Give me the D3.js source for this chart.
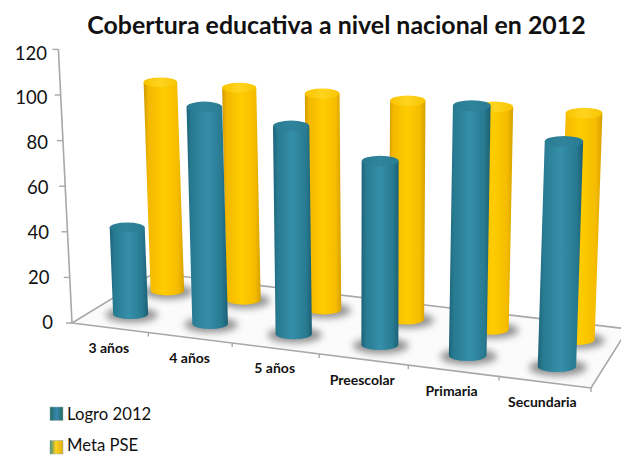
<!DOCTYPE html>
<html><head><meta charset="utf-8">
<script src="https://cdnjs.cloudflare.com/ajax/libs/d3/7.8.5/d3.min.js"></script>
<style>html,body{margin:0;padding:0;background:#fff;overflow:hidden}svg{display:block}text{font-family:Lato,"Open Sans",sans-serif;fill:#111}</style>
</head><body><div id="c"></div>
<script>
const categories=["3 años","4 años","5 años","Preescolar","Primaria","Secundaria"];
const logro=[38.5,95,89.5,77.5,103.5,91.5];
const meta=[97,97,97,96.5,96.5,96.5];
const yTicks=[0,20,40,60,80,100,120];
const seriesNames=["Logro 2012","Meta PSE"];
const W=621,H=455;
const svg=d3.select("#c").append("svg").attr("width",W).attr("height",H);
const defs=svg.append("defs");
function grad(id,stops){const g=defs.append("linearGradient").attr("id",id);stops.forEach(s=>g.append("stop").attr("offset",s[0]).attr("stop-color",s[1]));}
grad("teal",[[0,"#1d6377"],[.12,"#287a91"],[.5,"#358fa9"],[.85,"#287a91"],[1,"#1c5f73"]]);
grad("gold",[[0,"#cf9a00"],[.12,"#f3b800"],[.5,"#ffcc00"],[.85,"#f5bc00"],[1,"#d6a000"]]);
grad("tealCap",[[0,"#2a7b91"],[.5,"#30849c"],[1,"#2a7b91"]]);
grad("goldCap",[[0,"#f8c400"],[.5,"#ffd41f"],[1,"#f8c400"]]);
defs.append("filter").attr("id","soft").append("feGaussianBlur").attr("stdDeviation",.45);
const fs=defs.append("filter").attr("id","sh").attr("x","-40%").attr("y","-60%").attr("width","180%").attr("height","220%");
fs.append("feGaussianBlur").attr("stdDeviation",3.5);
defs.append("filter").attr("id","ln").append("feGaussianBlur").attr("stdDeviation",.5);
const sw1=defs.append("linearGradient").attr("id","sw1").attr("x1",0).attr("x2",1).attr("y1",0).attr("y2",0);
[[0,"#1f6b5f"],[.5,"#3b86b0"],[1,"#1f6b5f"]].forEach(s=>sw1.append("stop").attr("offset",s[0]).attr("stop-color",s[1]));
const sw2=defs.append("linearGradient").attr("id","sw2").attr("x1",0).attr("x2",1).attr("y1",0).attr("y2",0);
[[0,"#3f8a80"],[.45,"#ffd21e"],[1,"#e0b010"]].forEach(s=>sw2.append("stop").attr("offset",s[0]).attr("stop-color",s[1]));

// floor frame
const FL=[72,323],FR=[591,388],BL=[154,273],BR=[628,329];
const uBand=d3.scaleBand().domain(categories).range([0,1]);
const warp=d3.scalePow().exponent(1.07).domain([0,1]).range([0,1]);
const depth=d3.scalePoint().domain(seriesNames).range([.27,.73]);
const slide=d3.scaleOrdinal().domain(seriesNames).range([1,1.5]);
const hScale=d3.scaleLinear().domain([0,120]).range([0,273.6]);
const lerp=(a,b,t)=>[a[0]+(b[0]-a[0])*t,a[1]+(b[1]-a[1])*t];
function floor(u,d){const w=warp(u);return lerp(lerp(FL,FR,w),lerp(BL,BR,w),d);}
function persp(y){return 1+(y-323)*.0041/2.28;}
function lift(p,v){const h=hScale(v)*persp(p[1]);return [p[0]+(p[0]-370)/6000*h,p[1]-h];}

const g=svg.append("g");
const line=d3.line();
g.append("path").attr("d",line([FL,FR,BR,BL])+"Z").attr("fill","#fbfbfb").attr("stroke","#a8a8a8").attr("stroke-width",1.6).attr("filter","url(#ln)");
const axisG=g.append("g").attr("filter","url(#ln)");
axisG.append("path").attr("d",line([FL,lift(FL,120)])).attr("stroke","#a8a8a8").attr("stroke-width",1.6).attr("fill","none");
yTicks.forEach(v=>{const p=lift(FL,v);axisG.append("path").attr("d",line([[p[0]-6,p[1]],p])).attr("stroke","#a8a8a8").attr("stroke-width",1.4);});
categories.forEach(c=>{const u=uBand(c)+uBand.bandwidth();const p=floor(u,0);axisG.append("path").attr("d",line([p,[p[0],p[1]+4]])).attr("stroke","#a8a8a8").attr("stroke-width",1.4);});

// y labels
g.selectAll(".yl").data(yTicks).join("text").attr("class","yl")
 .attr("x",v=>v===0?53:50-v/120*3).attr("y",v=>lift(FL,v)[1]+5.5+v/120*4.6)
 .attr("text-anchor","end").attr("font-size",18.5).text(v=>v);

// cylinders back to front
function cyl(parent,c,v,s){
  const f=floor(uBand(c)+uBand.bandwidth()/2,depth(s));
  const p=[f[0]+slide(s),f[1]];
  const t=lift(p,v);
  const k=persp(p[1]);
  const r=17.8*k,ry=5.2*k;
  const a=s==="Meta PSE";
  parent.append("ellipse").attr("cx",p[0]+1).attr("cy",p[1]+1).attr("rx",r*1.5).attr("ry",ry*1.5).attr("fill","#666").attr("opacity",.7).attr("filter","url(#sh)");
  const bar=parent.append("g").attr("filter","url(#soft)");
  bar.append("path").attr("d",`M${t[0]-r},${t[1]}L${p[0]-r},${p[1]}A${r},${ry} 0 0 0 ${p[0]+r},${p[1]}L${t[0]+r},${t[1]}Z`).attr("fill",`url(#${a?"gold":"teal"})`);
  bar.append("ellipse").attr("cx",t[0]).attr("cy",t[1]).attr("rx",r).attr("ry",ry).attr("fill",`url(#${a?"goldCap":"tealCap"})`);
}
const bars=svg.append("g");
categories.forEach((c,i)=>cyl(bars,c,meta[i],"Meta PSE"));
categories.forEach((c,i)=>cyl(bars,c,logro[i],"Logro 2012"));

// category labels
const lab=svg.append("g");
lab.selectAll("text").data(categories).join("text")
 .attr("x",(c,i)=>floor(uBand(c)+uBand.bandwidth()/2,0)[0]+.5-i*.6)
 .attr("y",c=>floor(uBand(c)+uBand.bandwidth()/2,0)[1]+25)
 .attr("text-anchor","middle").attr("font-size",14).attr("font-weight",700).text(c=>c);

svg.append("text").attr("x",336.5).attr("y",34).attr("text-anchor","middle").attr("font-size",24.9).attr("font-weight",700).text("Cobertura educativa a nivel nacional en 2012");

const leg=svg.append("g");
seriesNames.forEach((s,i)=>{
 const y=407+i*33.5;
 leg.append("rect").attr("x",50).attr("y",y).attr("width",13).attr("height",13.5).attr("fill",`url(#sw${i+1})`).attr("stroke","#9aa").attr("stroke-width",.5);
 leg.append("text").attr("x",67).attr("y",y+12.5-i*2.5).attr("font-size",16.7).text(s);
});
</script></body></html>
